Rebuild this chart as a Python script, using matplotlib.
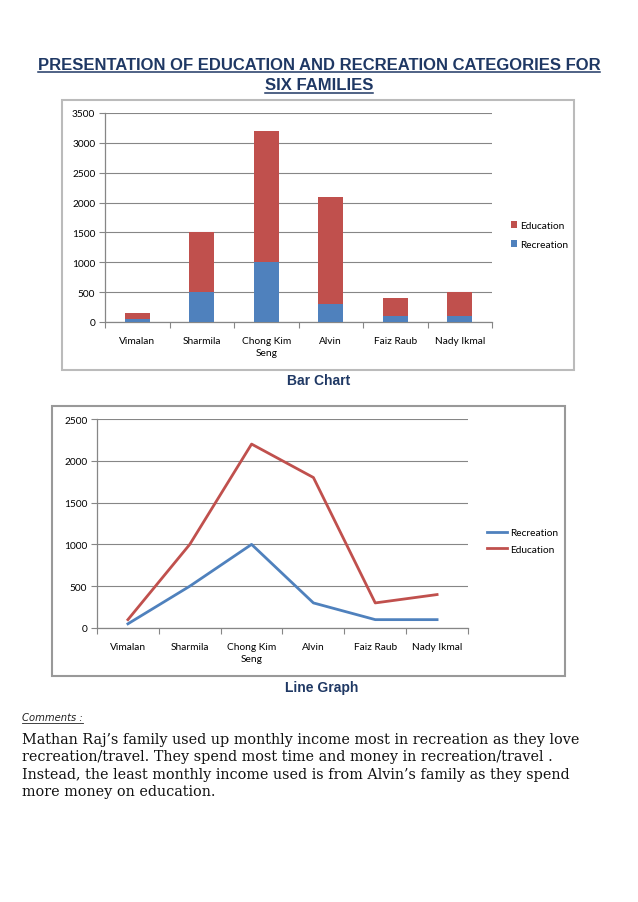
import matplotlib
matplotlib.use("Agg")
import matplotlib.pyplot as plt
from matplotlib.patches import Rectangle
from matplotlib.lines import Line2D
import numpy as np

families = ["Vimalan", "Sharmila", "Chong Kim\nSeng", "Alvin", "Faiz Raub", "Nady Ikmal"]
recreation = [50, 500, 1000, 300, 100, 100]
education = [100, 1000, 2200, 1800, 300, 400]

bar_ticks = [0, 500, 1000, 1500, 2000, 2500, 3000, 3500]
line_ticks = [0, 500, 1000, 1500, 2000, 2500]

title_lines = ["PRESENTATION OF EDUCATION AND RECREATION CATEGORIES FOR", "SIX FAMILIES"]
comment_lines = [
    "Mathan Raj\u2019s family used up monthly income most in recreation as they love",
    "recreation/travel. They spend most time and money in recreation/travel .",
    "Instead, the least monthly income used is from Alvin\u2019s family as they spend",
    "more money on education.",
]

W, H = 638, 903
fig = plt.figure(figsize=(W / 100, H / 100), dpi=100)
fig.patch.set_facecolor("white")

RED = "#C0504D"
BLUE = "#4F81BD"
NAVY = "#1F3864"
GRID = "#868686"
TICKFONT = "Lato"
TS = 7.3


def fx(x):
    return x / W


def fy(y):
    return 1 - y / H


def add_axes_px(l, t, r, b):
    return fig.add_axes([fx(l), fy(b), (r - l) / W, (b - t) / H])


def frame(l, t, r, b, color, lw):
    fig.add_artist(Rectangle((fx(l), fy(b)), (r - l) / W, (b - t) / H,
                             transform=fig.transFigure, fill=False,
                             edgecolor=color, linewidth=lw))


def style_axes(ax, ticks):
    n = len(families)
    ax.set_xlim(0, n)
    ax.set_ylim(ticks[0], ticks[-1])
    ax.set_yticks(ticks)
    ax.set_yticklabels([str(t) for t in ticks], fontsize=TS, family=TICKFONT)
    ax.set_xticks(np.arange(n) + 0.5)
    ax.set_xticklabels(families, fontsize=TS, family=TICKFONT)
    ax.set_xticks(np.arange(n + 1), minor=True)
    ax.tick_params(axis="x", which="major", length=0, pad=10)
    ax.tick_params(axis="x", which="minor", length=4, color=GRID, width=0.8, direction="out")
    ax.tick_params(axis="y", length=4, color=GRID, width=0.8, pad=3)
    for s in ["top", "right"]:
        ax.spines[s].set_visible(False)
    for s in ["left", "bottom"]:
        ax.spines[s].set_color(GRID)
        ax.spines[s].set_linewidth(0.9)
    ax.yaxis.grid(True, color=GRID, linewidth=0.8)
    ax.set_axisbelow(True)
    for lab in ax.get_xticklabels():
        lab.set_linespacing(1.4)


# ---- Bar chart ----
frame(62, 101, 574, 371, "#BBBBBB", 1.5)
ax1 = add_axes_px(105, 114, 492, 323)
x = np.arange(len(families)) + 0.5
ax1.bar(x, recreation, width=0.39, color=BLUE, label="Recreation", zorder=3)
ax1.bar(x, education, width=0.39, bottom=recreation, color=RED, label="Education", zorder=3)
style_axes(ax1, bar_ticks)
h, l = ax1.get_legend_handles_labels()
ax1.legend(h[::-1], l[::-1], loc="center left", bbox_to_anchor=(fx(507), fy(236)),
           bbox_transform=fig.transFigure, frameon=False,
           prop={"family": TICKFONT, "size": TS}, handlelength=0.6, handleheight=0.6,
           handletextpad=0.3, labelspacing=1.0, borderaxespad=0)

# ---- Line chart ----
frame(52, 407, 565, 677, "#999999", 1.5)
ax2 = add_axes_px(97, 420, 468, 629)
ax2.plot(x, recreation, color=BLUE, linewidth=2, label="Recreation", zorder=3)
ax2.plot(x, education, color=RED, linewidth=2, label="Education", zorder=3)
style_axes(ax2, line_ticks)
ax2.legend(loc="center left", bbox_to_anchor=(fx(483), fy(542)),
           bbox_transform=fig.transFigure, frameon=False,
           prop={"family": TICKFONT, "size": TS}, handlelength=2.0,
           handletextpad=0.3, labelspacing=0.75, borderaxespad=0)

# ---- Texts ----
t_title = []
for i, (tl, yy) in enumerate(zip(title_lines, [65, 86])):
    t_title.append(fig.text(fx(319), fy(yy), tl, ha="center", va="center",
                            fontsize=12, fontweight="bold", family="Liberation Sans",
                            color=NAVY))
t_bar = fig.text(fx(319), fy(381), "Bar Chart", ha="center", va="center",
                 fontsize=10, fontweight="heavy", family="Liberation Sans", color=NAVY)
t_line = fig.text(fx(322), fy(688), "Line Graph", ha="center", va="center",
                  fontsize=10, fontweight="bold", family="Liberation Sans", color=NAVY)
t_com = fig.text(fx(22), fy(718), "Comments :", ha="left", va="center",
                 fontsize=7.2, style="italic", family="DejaVu Sans", color="#222222")
for i, line in enumerate(comment_lines):
    fig.text(fx(22), fy(740 + i * 17.5), line, ha="left", va="center",
             fontsize=10.4, family="DejaVu Serif", color="#111111")

# underline title lines and comments label
fig.canvas.draw()
renderer = fig.canvas.get_renderer()


def underline_px(x0, x1, y, color, lw):
    fig.add_artist(Line2D([fx(x0), fx(x1)], [fy(y), fy(y)], transform=fig.transFigure,
                          color=color, linewidth=lw))


for t in t_title:
    bb = t.get_window_extent(renderer)
    underline_px(bb.x0, bb.x1, H - bb.y0 + 0.5, NAVY, 1.1)
bb = t_com.get_window_extent(renderer)
underline_px(bb.x0, bb.x1, H - bb.y0 + 1, "#222222", 0.6)

fig.savefig("out.png", dpi=100)
